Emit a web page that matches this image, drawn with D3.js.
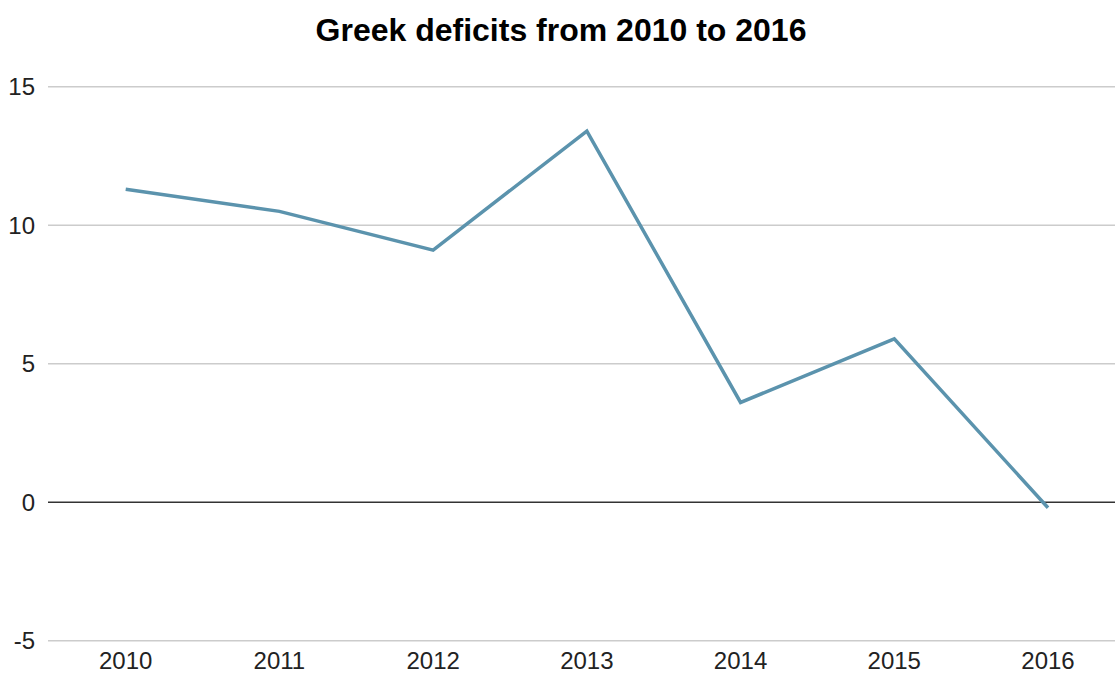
<!DOCTYPE html>
<html>
<head>
<meta charset="utf-8">
<script src="https://cdn.jsdelivr.net/npm/d3@7"></script>
<style>
  body { margin: 0; background: #fff; }
  text { font-family: "Liberation Sans", Arial, sans-serif; fill: #222; }
</style>
</head>
<body>
<div id="chart"></div>
<script>
// data
var years = ["2010", "2011", "2012", "2013", "2014", "2015", "2016"];
var deficits = [11.3, 10.5, 9.1, 13.4, 3.6, 5.9, -0.2];
var yTicks = [-5, 0, 5, 10, 15];

var width = 1115,
    height = 675;

var svg = d3.select("#chart").append("svg")
    .attr("width", width)
    .attr("height", height);

var x = d3.scalePoint()
    .domain(years)
    .range([125.7, 1048]);

var y = d3.scaleLinear()
    .domain([-5, 15])
    .range([640.7, 86.7]);

var gridLeft = 48,
    gridRight = width;

// horizontal grid
svg.selectAll("line.grid")
    .data(yTicks).enter().append("line")
    .attr("class", "grid")
    .attr("x1", gridLeft)
    .attr("x2", gridRight)
    .attr("y1", function(d) { return y(d); })
    .attr("y2", function(d) { return y(d); })
    .attr("stroke", function(d) { return d === 0 ? "#333" : "#ccc"; })
    .attr("stroke-width", 1.5);

// y labels
svg.selectAll("text.ylab")
    .data(yTicks).enter().append("text")
    .attr("class", "ylab")
    .attr("x", 35)
    .attr("y", function(d) { return y(d); })
    .attr("dy", "0.36em")
    .attr("text-anchor", "end")
    .style("font-size", "24px")
    .text(function(d) { return d; });

// x labels, kept just inside the bottom edge
svg.selectAll("text.xlab")
    .data(years).enter().append("text")
    .attr("class", "xlab")
    .attr("x", function(d) { return x(d); })
    .attr("y", 669)
    .attr("text-anchor", "middle")
    .style("font-size", "24px")
    .text(function(d) { return d; });

var line = d3.line()
    .x(function(d, i) { return x(years[i]); })
    .y(function(d) { return y(d); });

svg.append("path")
    .datum(deficits)
    .attr("d", line)
    .attr("fill", "none")
    .attr("stroke", "#5b93ad")
    .attr("stroke-width", 3.5);

svg.append("text")
    .attr("x", 561)
    .attr("y", 41)
    .attr("text-anchor", "middle")
    .style("font-size", "32px")
    .style("font-weight", "bold")
    .style("fill", "#000")
    .text("Greek deficits from 2010 to 2016");
</script>
</body>
</html>
